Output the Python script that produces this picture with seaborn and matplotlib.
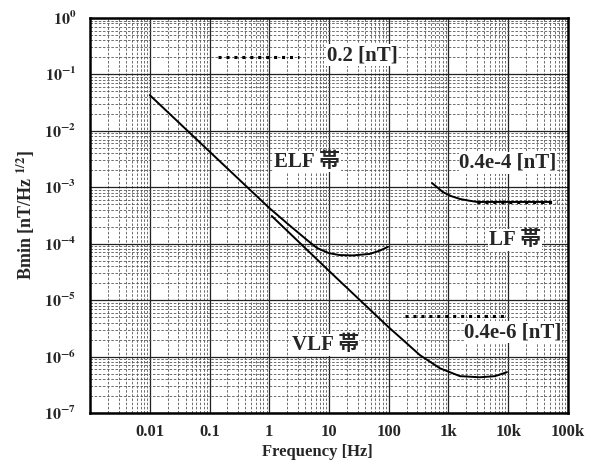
import numpy as np
import pandas as pd
import matplotlib
matplotlib.use("Agg")
import matplotlib.pyplot as plt
from matplotlib.ticker import FixedLocator, LogLocator, NullFormatter
import seaborn as sns

# ELF band sensor curve (starts at 0.01 Hz, bends up near 100 Hz)
elf_freq = [0.01, 0.1, 1.0, 2.2, 4.3, 6.3, 10, 15, 25, 48, 70, 97]
elf_bmin = [4.3e-2, 4.3e-3, 4.3e-4, 2.1e-4, 1.16e-4, 8.4e-5, 6.8e-5, 6.3e-5,
            6.2e-5, 6.6e-5, 7.5e-5, 8.8e-5]

# VLF band sensor curve
vlf_freq = [1.1, 10, 100, 154, 333, 721, 1556, 3365, 6000, 9530]
vlf_bmin = [3.1e-4, 3.3e-5, 3.3e-6, 2.2e-6, 1.06e-6, 6.2e-7, 4.5e-7, 4.3e-7,
            4.5e-7, 5.3e-7]

# LF band sensor curve
lf_freq = [530, 809, 1100, 1560, 2200, 3000, 50000]
lf_bmin = [1.19e-3, 8.2e-4, 7.0e-4, 6.2e-4, 5.8e-4, 5.5e-4, 5.5e-4]

# dotted reference levels
ref_labels = ["0.2 [nT]", "0.4e-4 [nT]", "0.4e-6 [nT]"]
ref_level = [0.2, 5.5e-4, 5.2e-6]
ref_from = [0.14, 3000, 190]
ref_to = [3.2, 65000, 9900]

x_ticks = [0.01, 0.1, 1, 10, 100, 1000, 10000, 100000]
x_ticklabels = ["0.01", "0.1", "1", "10", "100", "1k", "10k", "100k"]
y_exps = [0, -1, -2, -3, -4, -5, -6, -7]

sns.set_style("white")
plt.rcParams["font.family"] = ["Liberation Serif", "Noto Sans CJK JP"]
plt.rcParams["font.weight"] = "bold"
plt.rcParams["mathtext.fontset"] = "stix"

fig = plt.figure(figsize=(6.05, 4.71), dpi=100)
ax = fig.add_axes([0.1488, 0.1231, 0.790, 0.8387])

curves = pd.concat([
    pd.DataFrame({"f": elf_freq, "b": elf_bmin, "band": "ELF"}),
    pd.DataFrame({"f": vlf_freq, "b": vlf_bmin, "band": "VLF"}),
    pd.DataFrame({"f": lf_freq, "b": lf_bmin, "band": "LF"}),
])
sns.lineplot(data=curves, x="f", y="b", units="band", estimator=None,
             color="black", lw=1.4, sort=False, ax=ax, legend=False)

for lvl, x0, x1 in zip(ref_level, ref_from, ref_to):
    ax.plot([x0, x1], [lvl, lvl], color="black", lw=2.2, ls=(0, (1, 1.6)))

ax.set_xscale("log")
ax.set_yscale("log")
ax.set_xlim(1e-3, 1e5)
ax.set_ylim(1e-7, 1)

ax.xaxis.set_major_locator(FixedLocator(x_ticks))
ax.set_xticklabels(x_ticklabels)
ax.yaxis.set_major_locator(FixedLocator([10.0 ** e for e in y_exps]))
ax.set_yticklabels([r"$\mathbf{10^{%d}}$" % e for e in y_exps])
for axis in (ax.xaxis, ax.yaxis):
    axis.set_minor_locator(LogLocator(base=10, subs=np.arange(2, 10)))
    axis.set_minor_formatter(NullFormatter())

ax.grid(which="major", color="#222222", lw=0.9)
ax.grid(which="minor", color="#555555", lw=0.6, ls=(0, (3, 2)))
ax.tick_params(axis="x", which="both", length=0, labelsize=12, pad=8)
ax.tick_params(axis="y", which="both", length=0, labelsize=11.5, pad=10)
for s in ax.spines.values():
    s.set_color("black")
    s.set_linewidth(1.8)

ax.set_xlabel("Frequency [Hz]", fontsize=12, fontweight="bold", labelpad=3,
              x=0.475)
ax.set_ylabel(r"Bmin [nT/Hz $^{1/2}$]", fontsize=13, fontweight="bold",
              labelpad=5)

txt = dict(transform=ax.transAxes, ha="center", va="center", fontsize=15,
           fontweight="bold",
           bbox=dict(facecolor="white", edgecolor="none", pad=0.5))
ax.text(0.454, 0.636, "ELF 帯", **txt)
ax.text(0.889, 0.438, "LF 帯", **txt)
ax.text(0.492, 0.172, "VLF 帯", **txt)
ax.text(0.569, 0.906, ref_labels[0], **txt)
ax.text(0.874, 0.633, ref_labels[1], **txt)
ax.text(0.885, 0.205, ref_labels[2], **txt)

fig.savefig("out.png", dpi=100)
